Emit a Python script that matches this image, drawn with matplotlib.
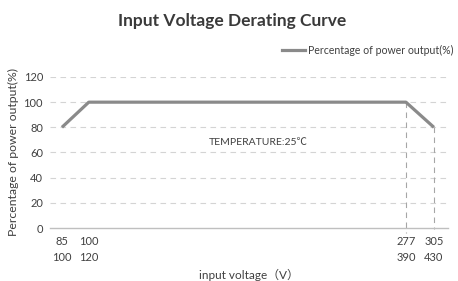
import numpy as np
import matplotlib
matplotlib.use('Agg')
import matplotlib.pyplot as plt

# data
voltage = [85, 100, 277, 305]
power_pct = [80, 100, 100, 80]
tick_row1 = ['85', '100', '277', '305']
tick_row2 = ['100', '120', '390', '430']
y_ticks = [0, 20, 40, 60, 80, 100, 120]

plt.rcParams['font.family'] = ['Lato', 'Noto Sans CJK SC', 'DejaVu Sans']

# the original axis squeezes the part above 277 V
brk_in = [0, 277, 400]
brk_out = [0, 277, 277 + 123 * 0.558]


def fwd(v):
    return np.interp(v, brk_in, brk_out)


def inv(u):
    return np.interp(u, brk_out, brk_in)


fig = plt.figure(figsize=(4.58, 2.81), dpi=100)
ax = fig.add_axes([0.109, 0.1886, 0.869, 0.5374])
ax.set_xscale('function', functions=(fwd, inv))

line_col = '#8a8a8a'
ax.plot(voltage, power_pct, color=line_col, lw=2.3, solid_capstyle='butt',
        zorder=3)

# drop lines at the right break points
for v, p, low in [(voltage[2], power_pct[2], -4), (voltage[3], power_pct[3], -1)]:
    ax.plot([v, v], [p, low], color='#a6a6a6', lw=0.8, ls=(0, (5, 4)),
            clip_on=False, zorder=2)

ax.set_xlim(78.3, 319)
ax.set_ylim(0, 120)
ax.set_yticks(y_ticks)
ax.set_xticks(voltage)
ax.set_xticklabels([a + '\n' + b for a, b in zip(tick_row1, tick_row2)],
                   linespacing=1.55)
ax.tick_params(axis='both', length=0, labelsize=8, colors='#404040')
ax.tick_params(axis='x', pad=6)
ax.tick_params(axis='y', pad=5)

for y in y_ticks[1:]:
    ax.axhline(y, color='#d4d4d4', lw=0.8, ls=(0, (5, 4)), zorder=1)
for s in ['top', 'right', 'left']:
    ax.spines[s].set_visible(False)
ax.spines['bottom'].set_color('#bfbfbf')
ax.spines['bottom'].set_linewidth(1.0)

ax.set_ylabel('Percentage of power output(%)', fontsize=8.8, color='#404040',
              labelpad=3)
ax.set_xlabel('input voltage（V）', fontsize=8.5, color='#404040', labelpad=4)

ax.text(167, 68, 'TEMPERATURE:25℃', fontsize=7.5, color='#404040',
        va='center')

fig.text(0.507, 0.925, 'Input Voltage Derating Curve', ha='center',
         va='center', fontsize=12.5, fontweight='bold', color='#3a3a3a')

# legend drawn by hand, pushed against the right edge like the original
fig.add_artist(plt.Line2D([282 / 458, 305 / 458], [1 - 50 / 281, 1 - 50 / 281],
                          color=line_col, lw=2.3, transform=fig.transFigure))
fig.text(308 / 458, 1 - 50 / 281, 'Percentage of power output(%)',
         fontsize=7.6, color='#404040', va='center')

fig.savefig('out.png', dpi=100)
